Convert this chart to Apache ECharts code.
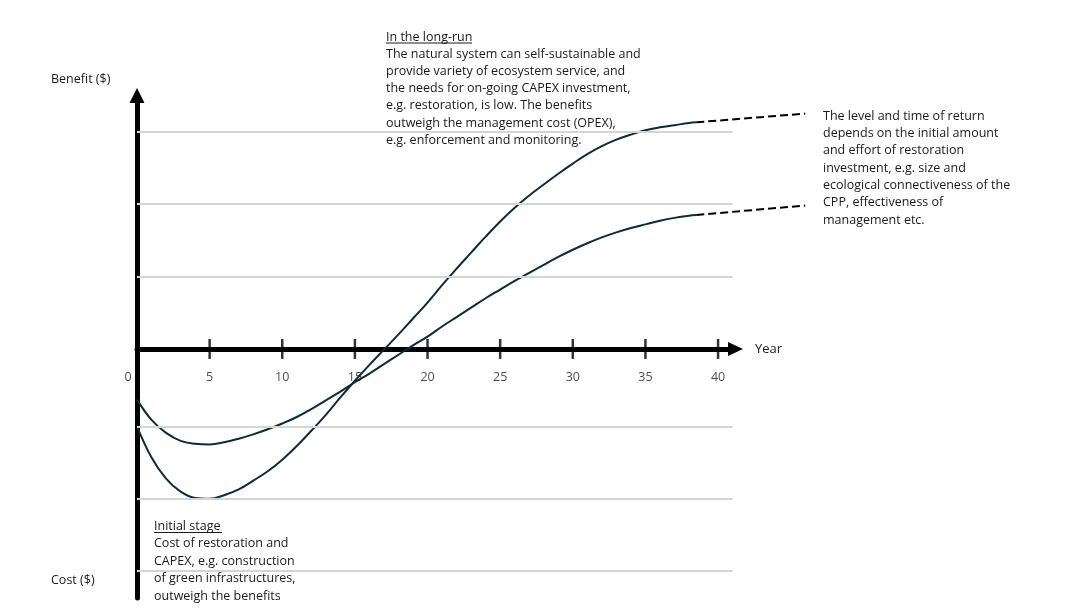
<!DOCTYPE html>
<html lang="en">
<head>
    <meta charset="UTF-8">
    <title>Return on restoration investment</title>
    <script src="https://cdn.jsdelivr.net/npm/echarts@6/dist/echarts.min.js"></script>
</head>
<style>
    *{
        margin: 0;
        padding: 0;
    }
    html,body{
        width: 100%;
        height: 100%;
        overflow: hidden;
        background: #fff;
    }
    .container{
        width: 1092px;
        height: 616px;
    }
</style>
<body>
<div class="container"></div>
<script>
    let years = [0, 1, 2, 3, 4, 5, 6, 7, 8, 9, 10, 11, 12, 13, 14, 15, 16, 17, 18, 19, 20,
                 21, 22, 23, 24, 25, 26, 27, 28, 29, 30, 31, 32, 33, 34, 35, 36, 37, 38, 38.5];
    // steeper curve (bigger initial investment)
    let valuesA = [-1.07, -1.50, -1.79, -1.97, -2.06, -2.07, -2.02, -1.94, -1.82, -1.69, -1.53,
                   -1.34, -1.13, -0.91, -0.67, -0.44, -0.22, -0.01, 0.20, 0.42, 0.64,
                   0.88, 1.11, 1.33, 1.55, 1.76, 1.95, 2.12, 2.27, 2.42, 2.56,
                   2.69, 2.80, 2.89, 2.96, 3.02, 3.06, 3.09, 3.12, 3.13];
    // flatter curve (smaller initial investment)
    let valuesB = [-0.70, -0.98, -1.16, -1.27, -1.31, -1.32, -1.29, -1.24, -1.18, -1.11, -1.03,
                   -0.94, -0.83, -0.71, -0.59, -0.46, -0.34, -0.21, -0.08, 0.05, 0.17,
                   0.31, 0.44, 0.57, 0.70, 0.82, 0.94, 1.05, 1.16, 1.27, 1.37,
                   1.46, 1.54, 1.61, 1.67, 1.72, 1.77, 1.81, 1.84, 1.85];
    // dashed extensions beyond the solid part
    let extendA = [[38.5, 3.13], [46, 3.25]];
    let extendB = [[38.5, 1.85], [46, 1.98]];

    let tickYears = [5, 10, 15, 20, 25, 30, 35, 40];
    let tickLabels = [0, 5, 10, 15, 20, 25, 30, 35, 40];
    let gridLevels = [3, 2, 1, -1.08, -2.07, -3.07];
    let gridEnd = 41;

    let textLongRun = [
        'The natural system can self-sustainable and',
        'provide variety of ecosystem service, and',
        'the needs for on-going CAPEX investment,',
        'e.g. restoration, is low. The benefits',
        'outweigh the management cost (OPEX),',
        'e.g. enforcement and monitoring.'
    ];
    let textReturn = [
        'The level and time of return',
        'depends on the initial amount',
        'and effort of restoration',
        'investment, e.g. size and',
        'ecological connectiveness of the',
        'CPP, effectiveness of',
        'management etc.'
    ];
    let textInitial = [
        'Cost of restoration and',
        'CAPEX, e.g. construction',
        'of green infrastructures,',
        'outweigh the benefits'
    ];

    const font = '"Open Sans", "Noto Sans", sans-serif';
    const lineColor = '#0f2b3a';
    const textColor = '#1a1a1a';

    // main plot area: 0..41.2 years over 598.5px, so 46 years need 668.2px
    const xMax = 41.2, xMaxExt = 46;
    const plotLeft = 137, plotRight = 356.5;
    const extRight = 1092 - plotLeft - (1092 - plotLeft - plotRight) / xMax * xMaxExt;

    let container = document.querySelector('.container');
    let mycharts = echarts.init(container);

    function pair(xs, ys) {
        return xs.map((x, i) => [x, ys[i]]);
    }

    function block(x, y, lines, lh) {
        return {
            type: 'text',
            x: x,
            y: y,
            silent: true,
            style: {
                text: lines.join('\n'),
                fill: textColor,
                fontFamily: font,
                fontSize: 12.5,
                lineHeight: lh,
                verticalAlign: 'top'
            }
        };
    }

    function underline(x1, x2, y) {
        return {
            type: 'line',
            silent: true,
            shape: {x1: x1, y1: y, x2: x2, y2: y},
            style: {stroke: textColor, lineWidth: 1}
        };
    }

    let option = {
        animation: false,
        grid: [
            {left: plotLeft, right: plotRight, top: 95.5, bottom: 18, containLabel: false, outerBoundsMode: 'none'},
            {left: plotLeft, right: extRight, top: 95.5, bottom: 18, containLabel: false, outerBoundsMode: 'none'}
        ],
        xAxis: [
            {
                type: 'value',
                gridIndex: 0,
                min: 0,
                max: xMax,
                axisLine: {
                    onZero: true,
                    symbol: ['none', 'triangle'],
                    symbolSize: [14, 15],
                    lineStyle: {color: '#000', width: 5}
                },
                axisTick: {show: false},
                splitLine: {show: false},
                axisLabel: {show: false}
            },
            {type: 'value', gridIndex: 1, min: 0, max: xMaxExt, show: false}
        ],
        yAxis: [
            {
                type: 'value',
                gridIndex: 0,
                min: -3.44,
                max: 3.5,
                axisLine: {
                    show: true,
                    symbol: ['none', 'triangle'],
                    symbolSize: [15, 15],
                    lineStyle: {color: '#000', width: 5}
                },
                axisTick: {show: false},
                axisLabel: {show: false},
                splitLine: {show: false}
            },
            {type: 'value', gridIndex: 1, min: -3.44, max: 3.5, show: false}
        ],
        series: [
            {
                name: 'grid',
                type: 'line',
                data: [],
                silent: true,
                z: 1,
                markLine: {
                    silent: true,
                    symbol: ['none', 'none'],
                    label: {show: false},
                    lineStyle: {color: '#d4d4d4', width: 2, type: 'solid'},
                    data: gridLevels.map(v => [{coord: [0, v]}, {coord: [gridEnd, v]}])
                }
            },
            {
                name: 'ticks',
                type: 'scatter',
                silent: true,
                symbol: 'rect',
                symbolSize: [2.5, 20],
                itemStyle: {color: '#000'},
                z: 4,
                data: tickYears.map(v => [v, 0])
            },
            {
                name: 'tick labels',
                type: 'scatter',
                silent: true,
                symbolSize: 0,
                z: 4,
                label: {
                    show: true,
                    position: 'inside',
                    offset: [0, 29],
                    color: textColor,
                    fontFamily: font,
                    fontSize: 12.5,
                    formatter: p => String(p.value[0])
                },
                data: tickLabels.map(v => v === 0
                    ? {value: [v, 0], label: {offset: [-9, 29]}}
                    : [v, 0])
            },
            {
                name: 'A',
                type: 'line',
                smooth: 0.4,
                showSymbol: false,
                clip: false,
                lineStyle: {color: lineColor, width: 2},
                z: 3,
                data: pair(years, valuesA)
            },
            {
                name: 'B',
                type: 'line',
                smooth: 0.4,
                showSymbol: false,
                clip: false,
                lineStyle: {color: lineColor, width: 2},
                z: 3,
                data: pair(years, valuesB)
            },
            {
                name: 'A ext',
                type: 'line',
                xAxisIndex: 1,
                yAxisIndex: 1,
                showSymbol: false,
                lineStyle: {color: '#000', width: 2, type: [8, 4]},
                data: extendA
            },
            {
                name: 'B ext',
                type: 'line',
                xAxisIndex: 1,
                yAxisIndex: 1,
                showSymbol: false,
                lineStyle: {color: '#000', width: 2, type: [8, 4]},
                data: extendB
            }
        ],
        graphic: [
            block(386, 28.5, ['In the long-run'].concat(textLongRun), 17.2),
            underline(386, 472, 43),
            block(823, 107.5, textReturn, 17.3),
            block(154, 517.5, ['Initial stage'].concat(textInitial), 17.5),
            underline(154, 222, 532.5),
            {
                type: 'text', x: 51, y: 79, silent: true,
                style: {text: 'Benefit ($)', fill: textColor, fontFamily: font, fontSize: 12.5, verticalAlign: 'middle'}
            },
            {
                type: 'text', x: 51, y: 580.5, silent: true,
                style: {text: 'Cost ($)', fill: textColor, fontFamily: font, fontSize: 12.5, verticalAlign: 'middle'}
            },
            {
                type: 'text', x: 755, y: 349, silent: true,
                style: {text: 'Year', fill: textColor, fontFamily: font, fontSize: 13, verticalAlign: 'middle'}
            }
        ]
    };

    mycharts.setOption(option);
</script>
</body>
</html>
